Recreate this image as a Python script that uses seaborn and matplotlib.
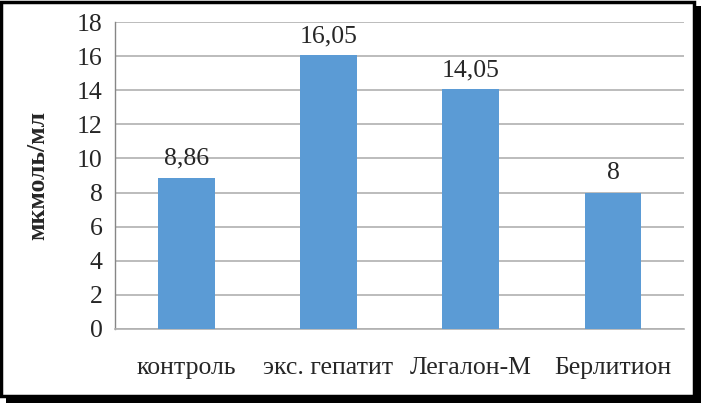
import matplotlib
matplotlib.use("Agg")
import matplotlib.pyplot as plt
import seaborn as sns
import pandas as pd
from matplotlib.patches import Rectangle

categories = ["контроль", "экс. гепатит", "Легалон-М", "Берлитион"]
values = [8.86, 16.05, 14.05, 8]
value_labels = ["8,86", "16,05", "14,05", "8"]
y_ticks = [0, 2, 4, 6, 8, 10, 12, 14, 16, 18]

df = pd.DataFrame({"group": categories, "value": values})

sns.set_style("white")
plt.rcParams["font.family"] = ["Liberation Serif", "DejaVu Serif"]

fig = plt.figure(figsize=(7.01, 4.03), dpi=100)
ax = fig.add_axes([0.164, 0.184, 0.812, 0.761])

sns.barplot(data=df, x="group", y="value", color="#5B9BD5", width=0.4,
            saturation=1, linewidth=0, ax=ax, zorder=3)

ax.bar_label(ax.containers[0], labels=value_labels, padding=6, fontsize=18.5)

ax.set_ylim(0, 18)
ax.set_xlim(-0.5, 3.5)
ax.set_yticks(y_ticks)
ax.set_yticklabels([str(t) for t in y_ticks], fontsize=18.5)
ax.tick_params(axis="y", length=6, color="#B0B0B0", width=1.2, pad=3)
ax.yaxis.grid(True, color="#B0B0B0", linewidth=1.2, zorder=0)

ax.set_xticks(range(len(categories)))
ax.set_xticklabels(categories, fontsize=18.5)
ax.tick_params(axis="x", length=0, pad=20)
ax.set_xticks([-0.5, 0.5, 1.5, 2.5, 3.5], minor=True)
ax.tick_params(axis="x", which="minor", length=6, color="#A0A0A0", width=1)

ax.set_xlabel("")
ax.set_ylabel("мкмоль/мл", fontsize=18.5, fontweight="bold", labelpad=20)

for s in ["top", "right"]:
    ax.spines[s].set_visible(False)
ax.spines["left"].set_color("#868686")
ax.spines["bottom"].set_color("#B0B0B0")
ax.spines["left"].set_linewidth(1)
ax.spines["bottom"].set_linewidth(1.2)

# frame with shadow
fig.patches.append(Rectangle((0.008, 0.0), 0.992, 0.985, transform=fig.transFigure,
                             facecolor="black", edgecolor="none", zorder=-2))
fig.patches.append(Rectangle((0.002, 0.018), 0.988, 0.978, transform=fig.transFigure,
                             facecolor="white", edgecolor="black", linewidth=2.5, zorder=-1))

fig.savefig("out.png", dpi=100)
